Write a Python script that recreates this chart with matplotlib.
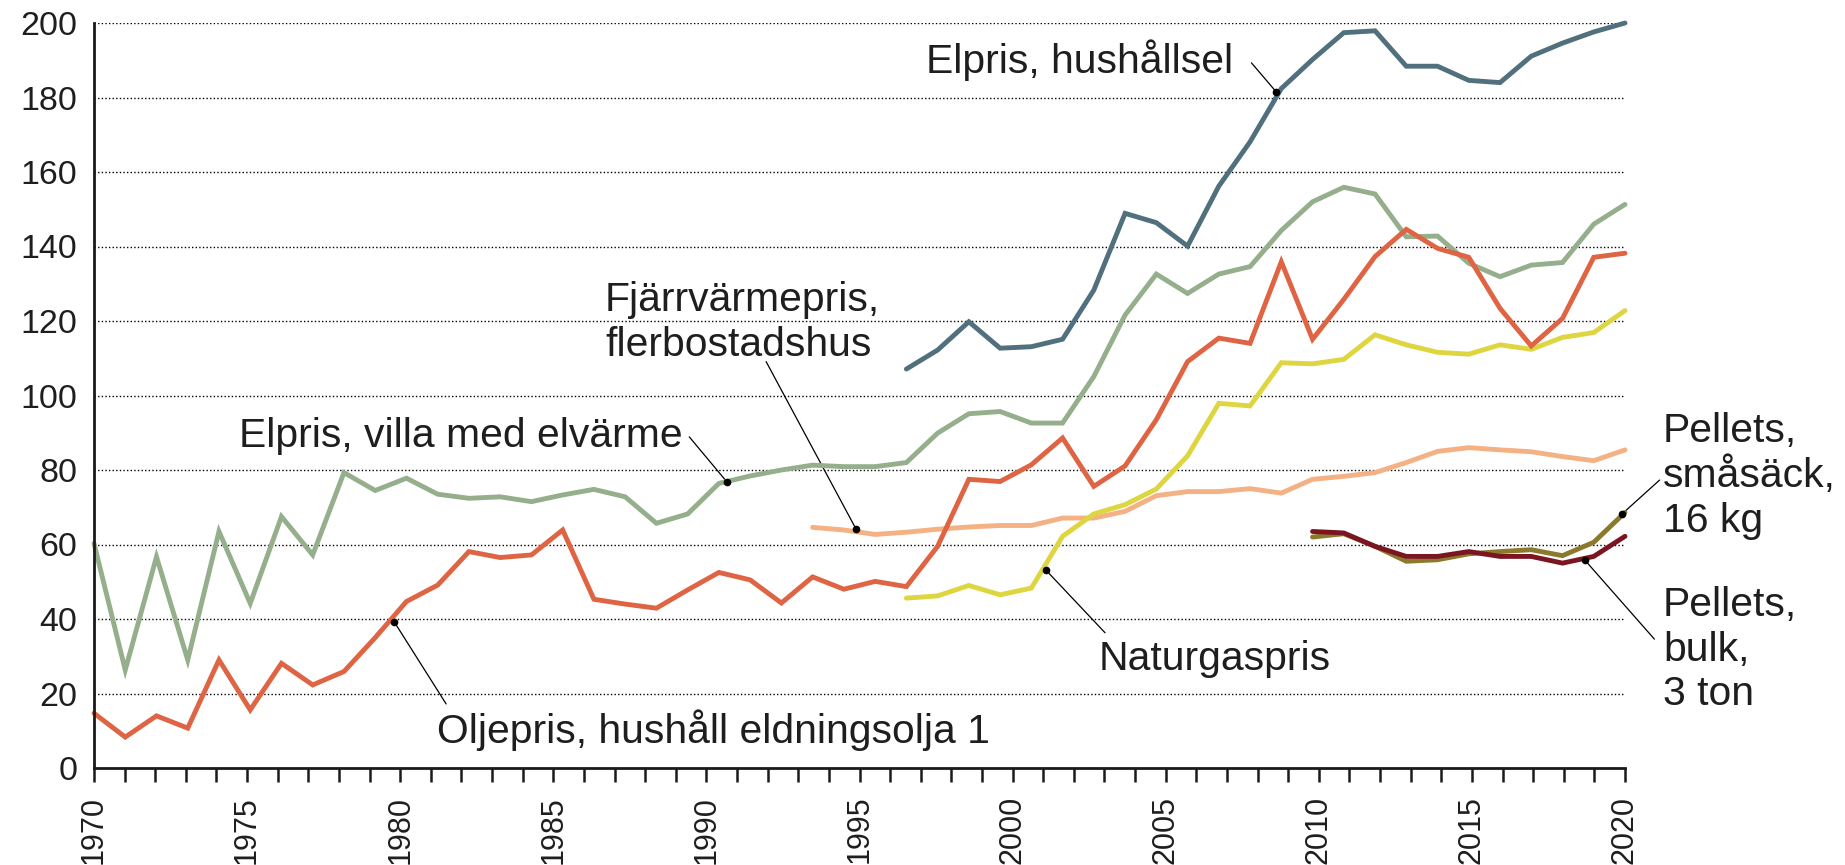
import numpy as np
import matplotlib
matplotlib.use("Agg")
import matplotlib.pyplot as plt
from matplotlib.ticker import MultipleLocator
from matplotlib import font_manager

plt.rcParams['font.family'] = ['Liberation Sans', 'DejaVu Sans']

# ---------------- data ----------------
# 50 evenly spaced observations spanning 1970-2020 on the x axis
N_POINTS = 50
X_START, X_END = 1970, 2020
x_major_ticks = list(range(1970, 2021, 5))
y_ticks = list(range(0, 201, 20))

elpris_villa = [60.3, 26.3, 56.7, 29.0, 63.5, 44.2, 67.5, 57.2, 79.3, 74.5,
                77.8, 73.5, 72.4, 72.8, 71.5, 73.3, 74.8, 72.8, 65.7, 68.2,
                76.4, 78.4, 80.0, 81.3, 80.9, 80.9, 82.0, 89.9, 95.1, 95.7,
                92.6, 92.6, 105.1, 121.6, 132.6, 127.4, 132.6, 134.6, 144.3, 152.0,
                155.9, 154.1, 142.6, 142.8, 135.5, 131.9, 135.0, 135.7, 146.0, 151.3]
elpris_villa_start = 0

oljepris = [14.7, 8.3, 14.0, 10.7, 29.0, 15.6, 28.1, 22.3, 25.9, 35.0,
            44.7, 49.1, 58.1, 56.5, 57.2, 63.9, 45.3, 44.0, 42.9, 47.8,
            52.5, 50.5, 44.3, 51.3, 48.0, 50.1, 48.7, 59.5, 77.5, 76.9,
            81.4, 88.6, 75.6, 81.1, 93.5, 109.1, 115.4, 114.0, 135.9, 115.1,
            125.8, 137.3, 144.6, 139.5, 137.1, 123.4, 113.3, 120.7, 137.1, 138.2]
oljepris_start = 0

elpris_hushall = [107.1, 112.2, 119.8, 112.7, 113.1, 115.1, 128.3, 148.9, 146.4, 140.1,
                  156.2, 168.1, 182.4, 190.2, 197.4, 197.9, 188.4, 188.4, 184.6, 184.0,
                  191.1, 194.6, 197.6, 200.0]
elpris_hushall_start = 26

fjarrvarme = [64.6, 63.9, 62.7, 63.3, 64.1, 64.7, 65.1, 65.1, 67.1, 67.1,
              68.9, 73.1, 74.2, 74.2, 75.0, 73.8, 77.5, 78.3, 79.3, 82.0,
              85.0, 86.0, 85.4, 84.9, 83.6, 82.5, 85.4]
fjarrvarme_start = 23

naturgas = [45.6, 46.2, 49.0, 46.5, 48.3, 62.2, 68.2, 70.7, 74.9, 83.8,
            97.9, 97.2, 108.8, 108.5, 109.7, 116.3, 113.6, 111.6, 111.1, 113.6,
            112.4, 115.6, 116.9, 122.8]
naturgas_start = 26

pellets_smasack = [62.0, 62.9, 59.5, 55.5, 55.9, 57.5, 58.1, 58.6, 57.0, 60.6, 68.6]
pellets_smasack_start = 39

pellets_bulk = [63.5, 63.1, 59.5, 56.8, 56.8, 58.1, 56.8, 56.8, 55.0, 56.8, 62.2]
pellets_bulk_start = 39

# ---------------- fonts ----------------
def have_font(name):
    try:
        font_manager.findfont(font_manager.FontProperties(family=name),
                              fallback_to_default=False)
        return True
    except Exception:
        return False

if have_font('Liberation Sans Narrow'):
    XTICK_FAMILY, XTICK_SIZE = ['Liberation Sans Narrow', 'Liberation Sans'], 25.5
else:
    XTICK_FAMILY, XTICK_SIZE = ['Liberation Sans', 'DejaVu Sans'], 22

# ---------------- figure ----------------
W, H = 1845, 865
fig = plt.figure(figsize=(W / 100, H / 100), dpi=100)
ax = fig.add_axes([94 / W, (H - 768) / H, 1531 / W, 745 / H])

x_all = np.linspace(X_START, X_END, N_POINTS)

TXT = '#1e1e1e'
LW = 3.5

def draw(values, start, color, z):
    xs = x_all[start:start + len(values)]
    ax.plot(xs, values, color=color, lw=LW, solid_capstyle='round',
            solid_joinstyle='miter', clip_on=False, zorder=z)

draw(fjarrvarme, fjarrvarme_start, '#F4B183', 3)
draw(elpris_villa, elpris_villa_start, '#95AE8B', 4)
draw(naturgas, naturgas_start, '#DDD640', 5)
draw(oljepris, oljepris_start, '#DF6443', 6)
draw(elpris_hushall, elpris_hushall_start, '#51707E', 7)
draw(pellets_smasack, pellets_smasack_start, '#8C7A2C', 8)
draw(pellets_bulk, pellets_bulk_start, '#7B1522', 9)

# axes
ax.set_xlim(X_START, X_END)
ax.set_ylim(0, 200)
ax.set_yticks(y_ticks)
ax.set_xticks(x_major_ticks)
ax.set_xticklabels([str(t) for t in x_major_ticks], rotation=90,
                   family=XTICK_FAMILY, fontsize=XTICK_SIZE)
ax.xaxis.set_minor_locator(MultipleLocator(1))
ax.tick_params(axis='x', which='both', direction='out', length=10, width=1.8,
               color='#1a1a1a', pad=10, labelcolor=TXT)
ax.tick_params(axis='y', length=0, labelsize=24.5, pad=12, labelcolor=TXT)
for s in ('top', 'right'):
    ax.spines[s].set_visible(False)
for s in ('left', 'bottom'):
    ax.spines[s].set_linewidth(2.0)
    ax.spines[s].set_color('#1a1a1a')
    ax.spines[s].set_zorder(10)
ax.set_axisbelow(True)
ax.yaxis.grid(True, color='black', lw=1.0, linestyle=(0, (1, 1.6)))
ax.xaxis.grid(False)

# annotations
FS = 29.4

def leader(start, end):
    ax.annotate('', xy=end, xytext=start,
                arrowprops=dict(arrowstyle='-', lw=0.9, color='black',
                                shrinkA=0, shrinkB=0), annotation_clip=False)
    ax.plot([end[0]], [end[1]], 'o', color='black', ms=4.5, zorder=12, clip_on=False)

ax.text(2007.2, 186.7, 'Elpris, hushållsel', ha='right', va='baseline', fontsize=FS, color=TXT)
leader((2007.8, 189.3), (2008.6, 181.6))

ax.text(1989.23, 86.3, 'Elpris, villa med elvärme', ha='right', va='baseline', fontsize=FS, color=TXT)
leader((1989.44, 88.9), (1990.66, 76.9))

ax.text(1986.69, 130.7, 'Fjärrvärmepris,\nflerbostadshus', ha='left', va='top',
        fontsize=FS, color=TXT, linespacing=1.22)
leader((1991.95, 109.1), (1994.89, 64.1))

ax.text(2002.8, 26.3, 'Naturgaspris', ha='left', va='baseline', fontsize=FS, color=TXT)
leader((2003.02, 36.3), (2001.08, 53.2))

ax.text(1981.21, 6.6, 'Oljepris, hushåll eldningsolja 1', ha='left', va='baseline', fontsize=FS, color=TXT)
leader((1981.5, 17.2), (1979.8, 39.3))

ax.text(2021.24, 95.7, 'Pellets,\nsmåsäck,\n16 kg', ha='left', va='top',
        fontsize=FS, color=TXT, linespacing=1.22, clip_on=False)
leader((2021.13, 77.3), (2019.89, 68.1))

ax.text(2021.24, 48.8, 'Pellets,\nbulk,\n3 ton', ha='left', va='top',
        fontsize=FS, color=TXT, linespacing=1.22, clip_on=False)
leader((2020.96, 34.6), (2018.69, 55.8))

fig.savefig('out.png', dpi=100, facecolor='white')
